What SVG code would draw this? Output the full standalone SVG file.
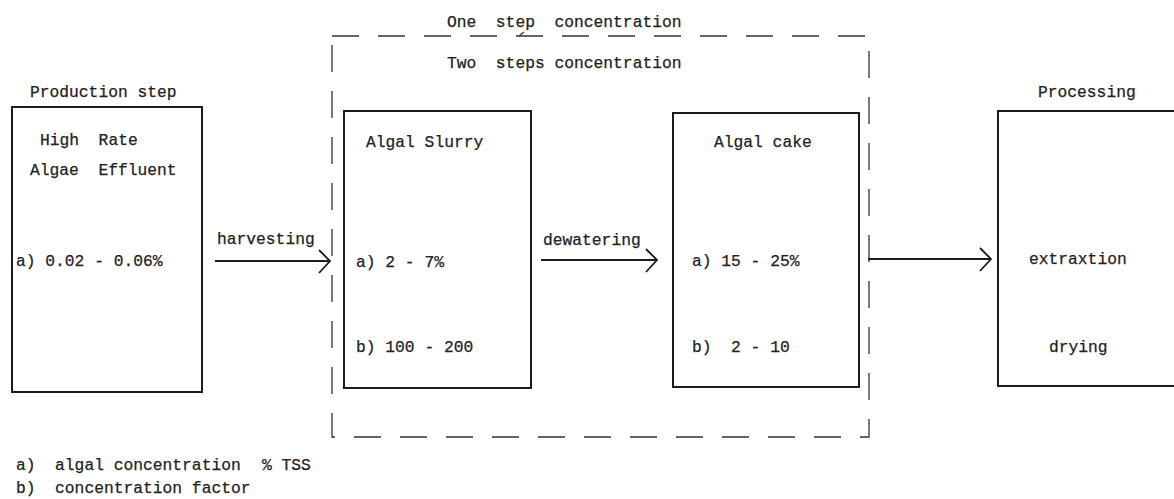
<svg xmlns="http://www.w3.org/2000/svg" width="1174" height="499" viewBox="0 0 1174 499">
<style>
.t{font-family:"Liberation Mono","Courier New",monospace;font-size:16.3px;fill:#222;stroke:#222;stroke-width:0.25;white-space:pre}
.box{fill:none;stroke:#1c1c1c;stroke-width:2}
.dash{fill:none;stroke:#333;stroke-width:1.3;stroke-dasharray:27 19}
.conn{fill:none;stroke:#1c1c1c;stroke-width:1.8}
</style>
<defs>
<marker id="chev" viewBox="0 0 14 26" refX="12" refY="12" markerWidth="14" markerHeight="26" markerUnits="userSpaceOnUse" orient="auto">
<path d="M1,1 L12,12 L1,24" fill="none" stroke="#1c1c1c" stroke-width="1.8"/>
</marker>
</defs>
<rect width="1174" height="499" fill="#fff"/>

<g id="concentration-frame">
<rect class="dash" x="332" y="36" width="537" height="401"/>
<path d="M519,36 L524,32" fill="none" stroke="#333" stroke-width="1.2"/>
<text class="t" x="447" y="27" xml:space="preserve">One  step  concentration</text>
<text class="t" x="447" y="68" xml:space="preserve">Two  steps concentration</text>
</g>

<g id="production">
<text class="t" x="30" y="97">Production step</text>
<rect class="box" x="12" y="107" width="190" height="285"/>
<text class="t" x="40" y="145" xml:space="preserve">High  Rate</text>
<text class="t" x="30" y="175" xml:space="preserve">Algae  Effluent</text>
<text class="t" x="16" y="266">a) 0.02 - 0.06%</text>
</g>

<g id="slurry">
<rect class="box" x="344" y="111" width="187" height="277"/>
<text class="t" x="366" y="147">Algal Slurry</text>
<text class="t" x="356" y="267">a) 2 - 7%</text>
<text class="t" x="356" y="352">b) 100 - 200</text>
</g>

<g id="cake">
<rect class="box" x="673" y="113" width="186" height="274"/>
<text class="t" x="714" y="147">Algal cake</text>
<text class="t" x="692" y="266">a) 15 - 25%</text>
<text class="t" x="692" y="352" xml:space="preserve">b)  2 - 10</text>
</g>

<g id="processing">
<text class="t" x="1038" y="97">Processing</text>
<rect class="box" x="998" y="111" width="200" height="275"/>
<text class="t" x="1029" y="264">extraxtion</text>
<text class="t" x="1049" y="352">drying</text>
</g>

<g id="connectors">
<line class="conn" x1="215" y1="261" x2="330" y2="261" marker-end="url(#chev)"/>
<text class="t" x="217" y="244">harvesting</text>
<line class="conn" x1="541" y1="260" x2="657" y2="260" marker-end="url(#chev)"/>
<text class="t" x="543" y="245">dewatering</text>
<line class="conn" x1="868" y1="259" x2="991" y2="259" marker-end="url(#chev)"/>
</g>

<g id="legend">
<text class="t" x="16" y="470" xml:space="preserve">a)  algal concentration <tspan x="262">% TSS</tspan></text>
<text class="t" x="16" y="493" xml:space="preserve">b)  concentration factor</text>
</g>
</svg>
